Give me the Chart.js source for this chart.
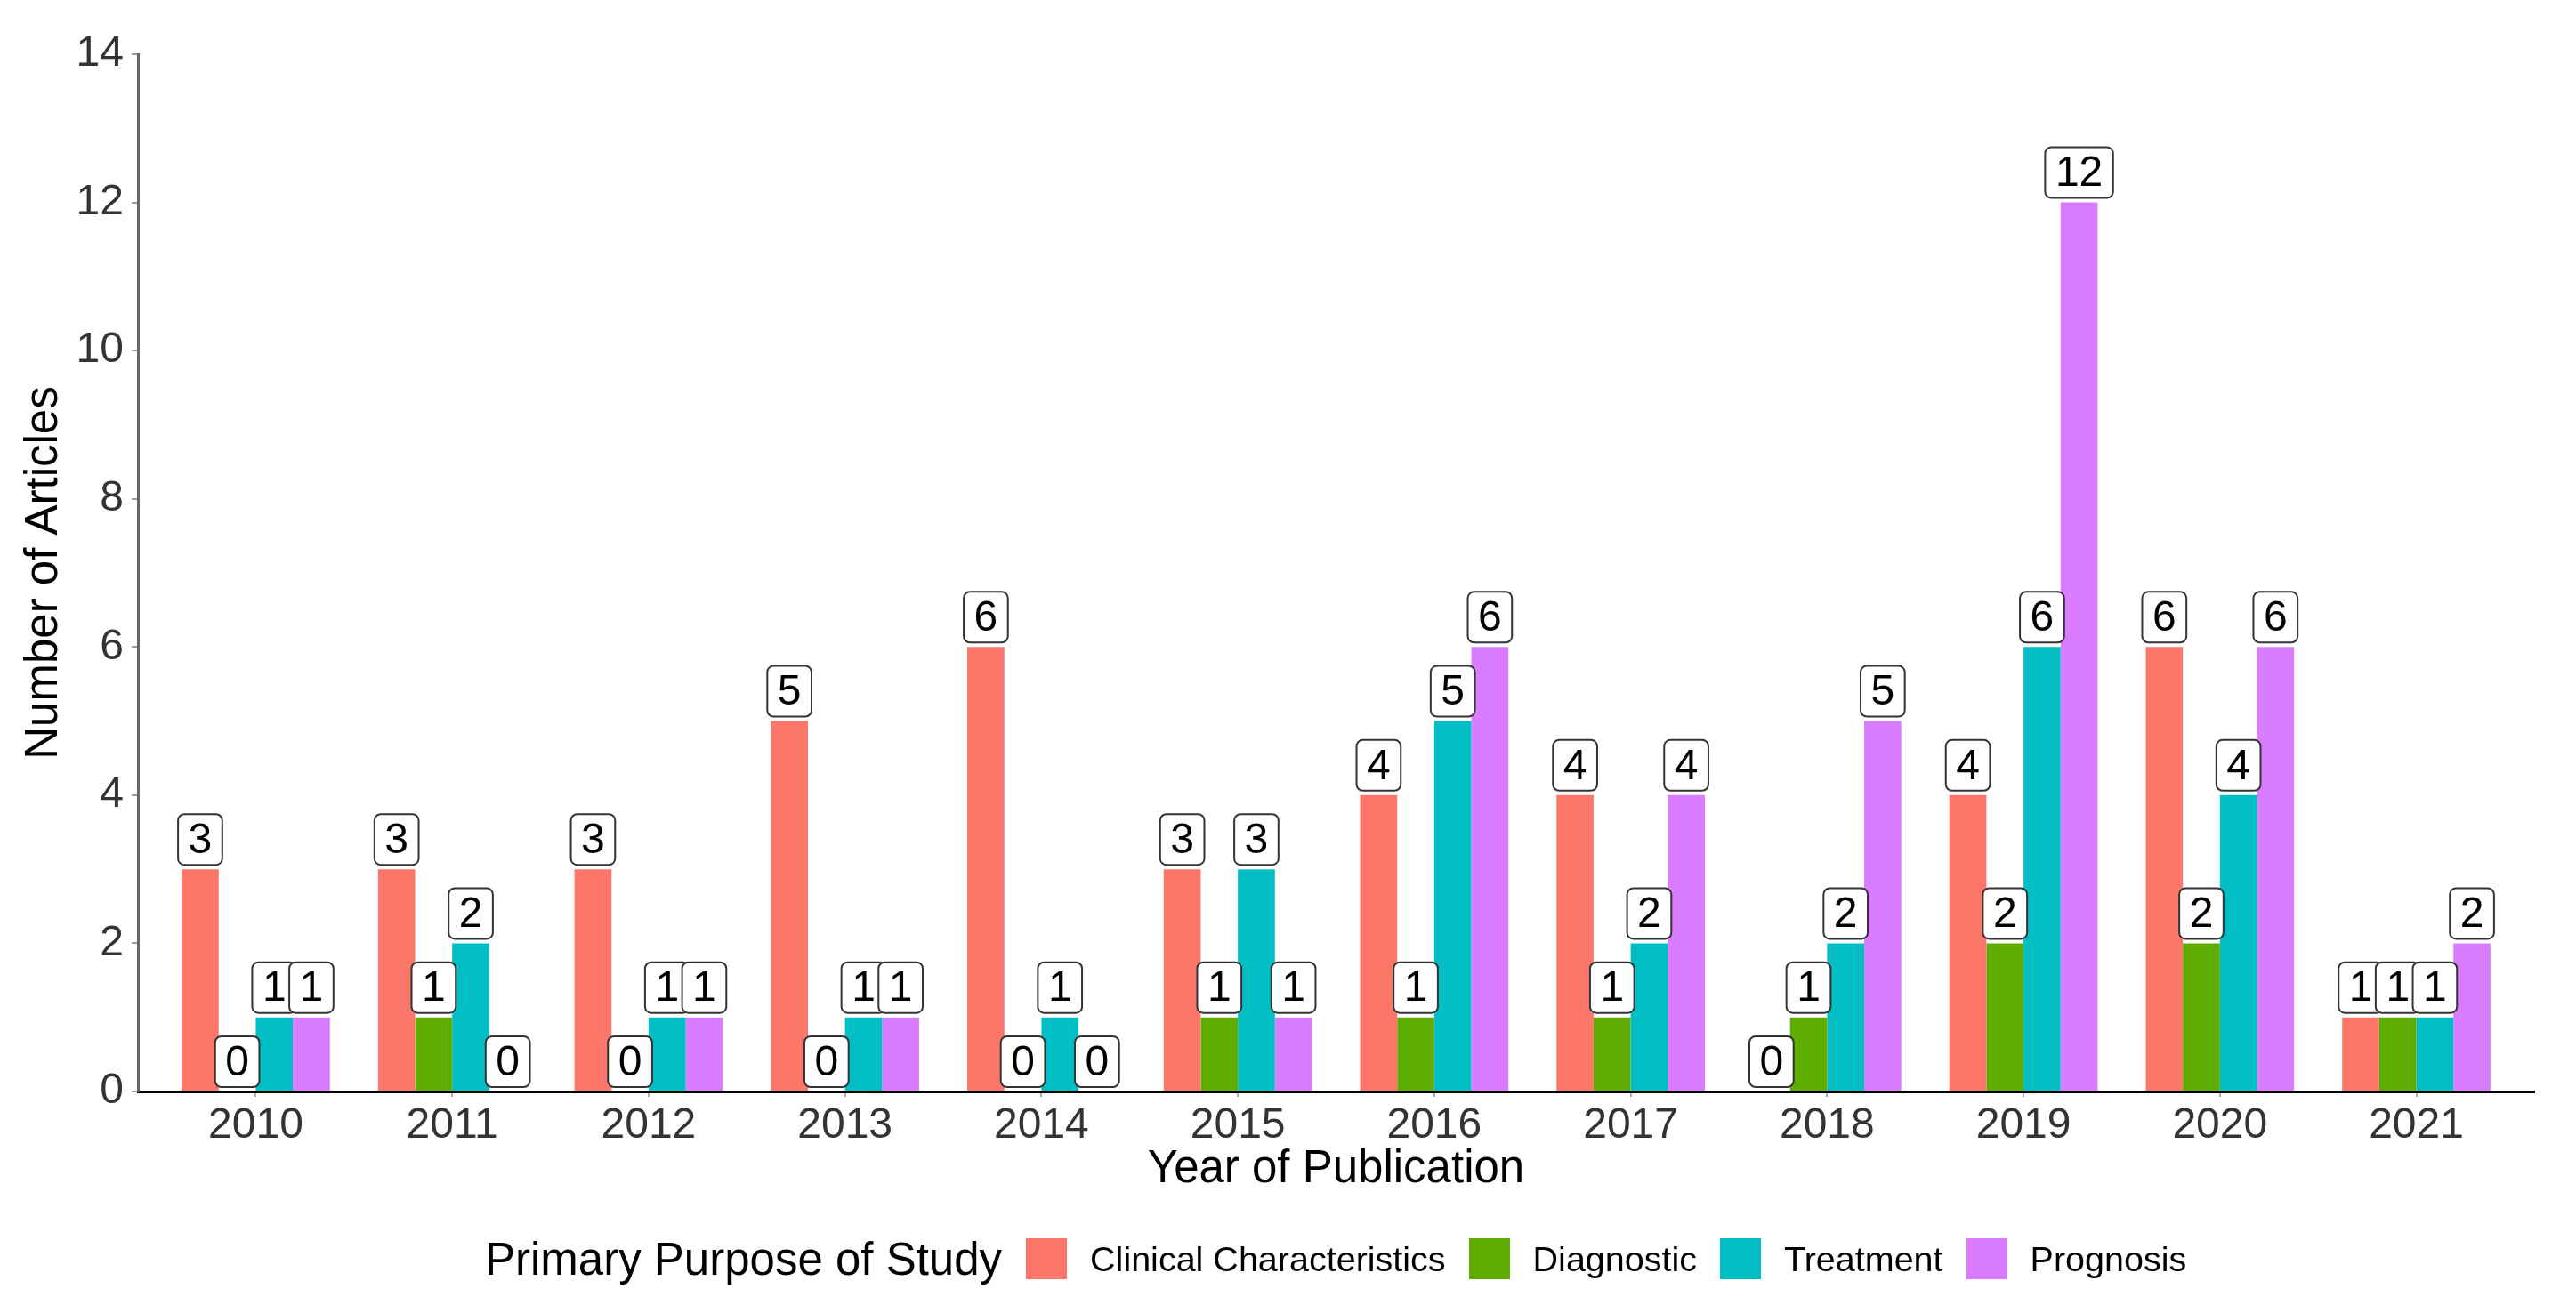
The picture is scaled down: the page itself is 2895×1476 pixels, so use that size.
<!DOCTYPE html>
<html>
<head>
<meta charset="utf-8">
<script src="https://cdn.jsdelivr.net/npm/chart.js@4.4.0/dist/chart.umd.min.js"></script>
<style>
  body { margin: 0; background: #fff; font-family: "Liberation Sans", Arial, sans-serif; }
  #wrap { position: relative; width: 2895px; height: 1476px; }
  #legend { position: absolute; left: 545px; top: 1392px; height: 46px; display: flex; align-items: center; white-space: nowrap; color: #000; }
  #legend .ttl { font-size: 51px; margin-right: 27px; }
  #legend .box { width: 46px; height: 46px; margin-right: 26px; }
  #legend .lbl { font-size: 39.5px; margin-right: 26px; }
</style>
</head>
<body>
<div id="wrap">
  <canvas id="chart" width="2895" height="1476"></canvas>
  <div id="legend"><span class="ttl">Primary Purpose of Study</span></div>
</div>
<script>
const years = ['2010','2011','2012','2013','2014','2015','2016','2017','2018','2019','2020','2021'];
const seriesNames = ['Clinical Characteristics', 'Diagnostic', 'Treatment', 'Prognosis'];
const clinical   = [3, 3, 3, 5, 6, 3, 4, 4, 0, 4, 6, 1];
const diagnostic = [0, 1, 0, 0, 0, 1, 1, 1, 1, 2, 2, 1];
const treatment  = [1, 2, 1, 1, 1, 3, 5, 2, 2, 6, 4, 1];
const prognosis  = [1, 0, 1, 1, 0, 1, 6, 4, 5, 12, 6, 2];
const yTicks = [0, 2, 4, 6, 8, 10, 12, 14];
const colors = ['#FC766A', '#5FAD00', '#00BEC4', '#DA7CFF'];

const seriesValues = [clinical, diagnostic, treatment, prognosis];
const fam = '"Liberation Sans", Arial, sans-serif';

// boxed value labels above every bar (like geom_label)
const boxLabels = {
  id: 'boxLabels',
  afterDatasetsDraw(chart) {
    const ctx = chart.ctx;
    ctx.save();
    ctx.font = '48px ' + fam;
    ctx.textAlign = 'center';
    ctx.textBaseline = 'middle';
    chart.data.datasets.forEach((ds, di) => {
      chart.getDatasetMeta(di).data.forEach((bar, i) => {
        const txt = String(ds.data[i].y);
        const w = ctx.measureText(txt).width + 23;
        const h = 57;
        const bottom = bar.y - 5;
        ctx.beginPath();
        ctx.roundRect(bar.x - w / 2, bottom - h, w, h, 7);
        ctx.fillStyle = '#fff';
        ctx.fill();
        ctx.lineWidth = 2;
        ctx.strokeStyle = '#333';
        ctx.stroke();
        ctx.fillStyle = '#000';
        ctx.fillText(txt, bar.x, bottom - h / 2 + 2);
      });
    });
    ctx.restore();
  }
};

new Chart('chart', {
  type: 'bar',
  data: {
    datasets: seriesNames.map((name, k) => ({
      label: name,
      data: seriesValues[k].map((v, i) => ({ x: i, y: v })),
      backgroundColor: colors[k],
      borderWidth: 0,
      categoryPercentage: 0.755,
      barPercentage: 1
    }))
  },
  options: {
    responsive: false,
    animation: false,
    devicePixelRatio: 1,
    layout: { padding: { top: 61, right: 47, bottom: 0, left: 0 } },
    plugins: { legend: { display: false }, tooltip: { enabled: false } },
    scales: {
      x: {
        type: 'linear',
        min: -0.6,
        max: 11.6,
        offset: false,
        afterBuildTicks: s => { s.ticks = years.map((_, i) => ({ value: i })); },
        afterFit: s => { s.height = 249; },
        ticks: {
          callback: v => years[v],
          font: { family: fam, size: 48 },
          color: '#333',
          padding: 4,
          maxRotation: 0,
          autoSkip: false
        },
        grid: { drawOnChartArea: false, offset: false, tickLength: 6, color: '#aaa', lineWidth: 2 },
        border: { color: '#000', width: 3 },
        title: {
          display: true,
          text: 'Year of Publication',
          font: { family: fam, size: 51 },
          color: '#000',
          padding: { top: 0, bottom: 130 }
        }
      },
      y: {
        min: 0,
        max: 14,
        afterBuildTicks: s => { s.ticks = yTicks.map(v => ({ value: v })); },
        afterFit: s => { s.width = 155; },
        ticks: { font: { family: fam, size: 48 }, color: '#333', padding: 9 },
        grid: { drawOnChartArea: false, tickLength: 7, color: '#999', lineWidth: 2 },
        border: { color: '#666', width: 3 },
        title: {
          display: true,
          text: 'Number of Articles',
          font: { family: fam, size: 51 },
          color: '#000',
          padding: { top: 19, bottom: 0 }
        }
      }
    }
  },
  plugins: [boxLabels]
});

// legend in one row with its title, like the ggplot bottom legend
const legend = document.getElementById('legend');
seriesNames.forEach((name, k) => {
  const box = document.createElement('span');
  box.className = 'box';
  box.style.background = colors[k];
  const lbl = document.createElement('span');
  lbl.className = 'lbl';
  lbl.textContent = name;
  legend.appendChild(box);
  legend.appendChild(lbl);
});
</script>
</body>
</html>
